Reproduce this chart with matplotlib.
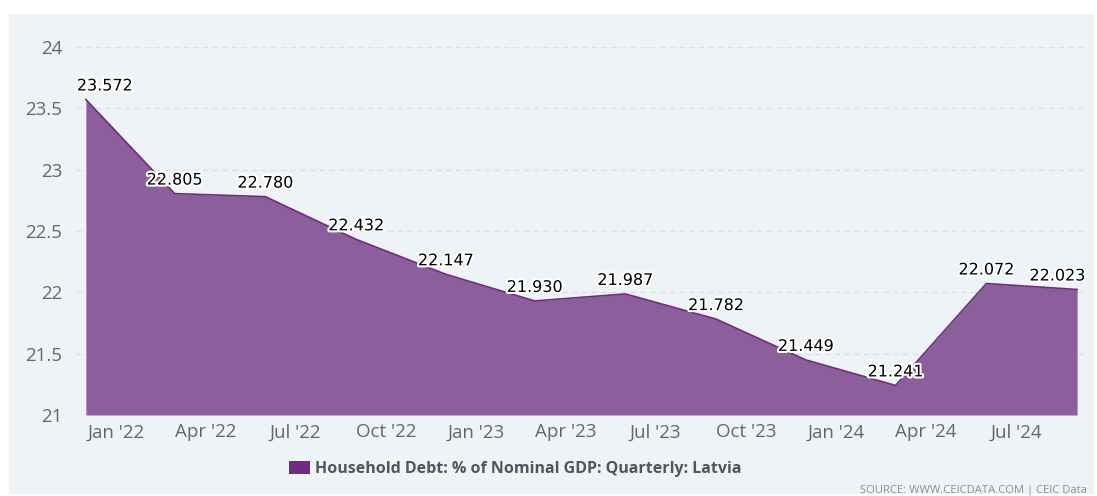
import matplotlib
matplotlib.use('Agg')
import matplotlib.pyplot as plt
import matplotlib.dates as mdates
import matplotlib.patheffects as pe
from matplotlib.patches import Patch, Rectangle
import numpy as np
import datetime as dt

# quarterly observations (end-of-quarter month)
dates = [dt.date(2021, 12, 1), dt.date(2022, 3, 1), dt.date(2022, 6, 1), dt.date(2022, 9, 1),
         dt.date(2022, 12, 1), dt.date(2023, 3, 1), dt.date(2023, 6, 1), dt.date(2023, 9, 1),
         dt.date(2023, 12, 1), dt.date(2024, 3, 1), dt.date(2024, 6, 1), dt.date(2024, 9, 1)]
values = [23.572, 22.805, 22.780, 22.432, 22.147, 21.930, 21.987, 21.782,
          21.449, 21.241, 22.072, 22.023]
tick_dates = [dt.date(2022, 1, 1), dt.date(2022, 4, 1), dt.date(2022, 7, 1), dt.date(2022, 10, 1),
              dt.date(2023, 1, 1), dt.date(2023, 4, 1), dt.date(2023, 7, 1), dt.date(2023, 10, 1),
              dt.date(2024, 1, 1), dt.date(2024, 4, 1), dt.date(2024, 7, 1)]
tick_labels = ["Jan '22", "Apr '22", "Jul '22", "Oct '22", "Jan '23", "Apr '23",
               "Jul '23", "Oct '23", "Jan '24", "Apr '24", "Jul '24"]
yticks = [21, 21.5, 22, 22.5, 23, 23.5, 24]
series_name = "Household Debt: % of Nominal GDP: Quarterly: Latvia"

bg = '#eef3f8'
fill_col = '#8c5e9b'
line_col = '#6f2c80'

W, H = 1097, 496
fig = plt.figure(figsize=(W / 100, H / 100), dpi=100)
fig.patch.set_facecolor('white')
# light panel behind the chart
fig.patches.append(Rectangle((9 / W, 1 - 494 / H), 1085 / W, 480 / H,
                             transform=fig.transFigure, facecolor=bg, edgecolor='none', zorder=-10))

ax = fig.add_axes([76 / W, 1 - 415 / H, (1085 - 76) / W, 368 / H])
ax.set_facecolor(bg)
ax.patch.set_alpha(0)

x = mdates.date2num(dates)
ax.fill_between(x, values, 21, color=fill_col, linewidth=0, zorder=2)
ax.plot(x, values, color=line_col, linewidth=1.2, zorder=3)

ax.set_xlim(x[0] - 10, x[-1] + 8)
ax.set_ylim(21, 24)
ax.set_yticks(yticks)
ax.set_yticklabels([f'{v:g}' for v in yticks])
ax.set_xticks(mdates.date2num(tick_dates))
ax.set_xticklabels(tick_labels)

for s in ax.spines.values():
    s.set_visible(False)
ax.grid(axis='y', color='#dcdfe3', linestyle=(0, (4, 3)), linewidth=1, zorder=1)
ax.axhline(21, color='#d8dce0', linewidth=1, zorder=1)
ax.tick_params(axis='both', length=0, colors='#666666', labelsize=13.5)
ax.tick_params(axis='y', pad=10)
ax.tick_params(axis='x', pad=6)
for lab in ax.get_xticklabels() + ax.get_yticklabels():
    lab.set_fontfamily('Open Sans')

outline = [pe.withStroke(linewidth=3, foreground='white')]
for i, (xi, v) in enumerate(zip(x, values)):
    ha, dx = 'center', 0
    if i == 0:
        ha, dx = 'left', -9
    elif i == len(values) - 1:
        ha, dx = 'right', 8
    ax.annotate(f'{v:.3f}', (xi, v), xytext=(dx, 6), textcoords='offset pixels',
                ha=ha, va='bottom', fontsize=11.5, color='black',
                path_effects=outline, zorder=5, annotation_clip=False)

handle = Patch(facecolor=line_col, edgecolor='none')
leg = fig.legend([handle], [series_name], loc='center',
                 bbox_to_anchor=(515 / W, 1 - 469 / H), frameon=False,
                 handlelength=1.3, handleheight=0.9, handletextpad=0.3,
                 prop={'family': 'Open Sans', 'weight': 'bold', 'size': 11.5})
for t in leg.get_texts():
    t.set_color('#555555')

fig.text(1087 / W, 1 - 490 / H, 'SOURCE: WWW.CEICDATA.COM | CEIC Data',
         ha='right', va='center', fontsize=8.1, color='#8a8f96', family='Open Sans')

fig.savefig('out.png', dpi=100)
